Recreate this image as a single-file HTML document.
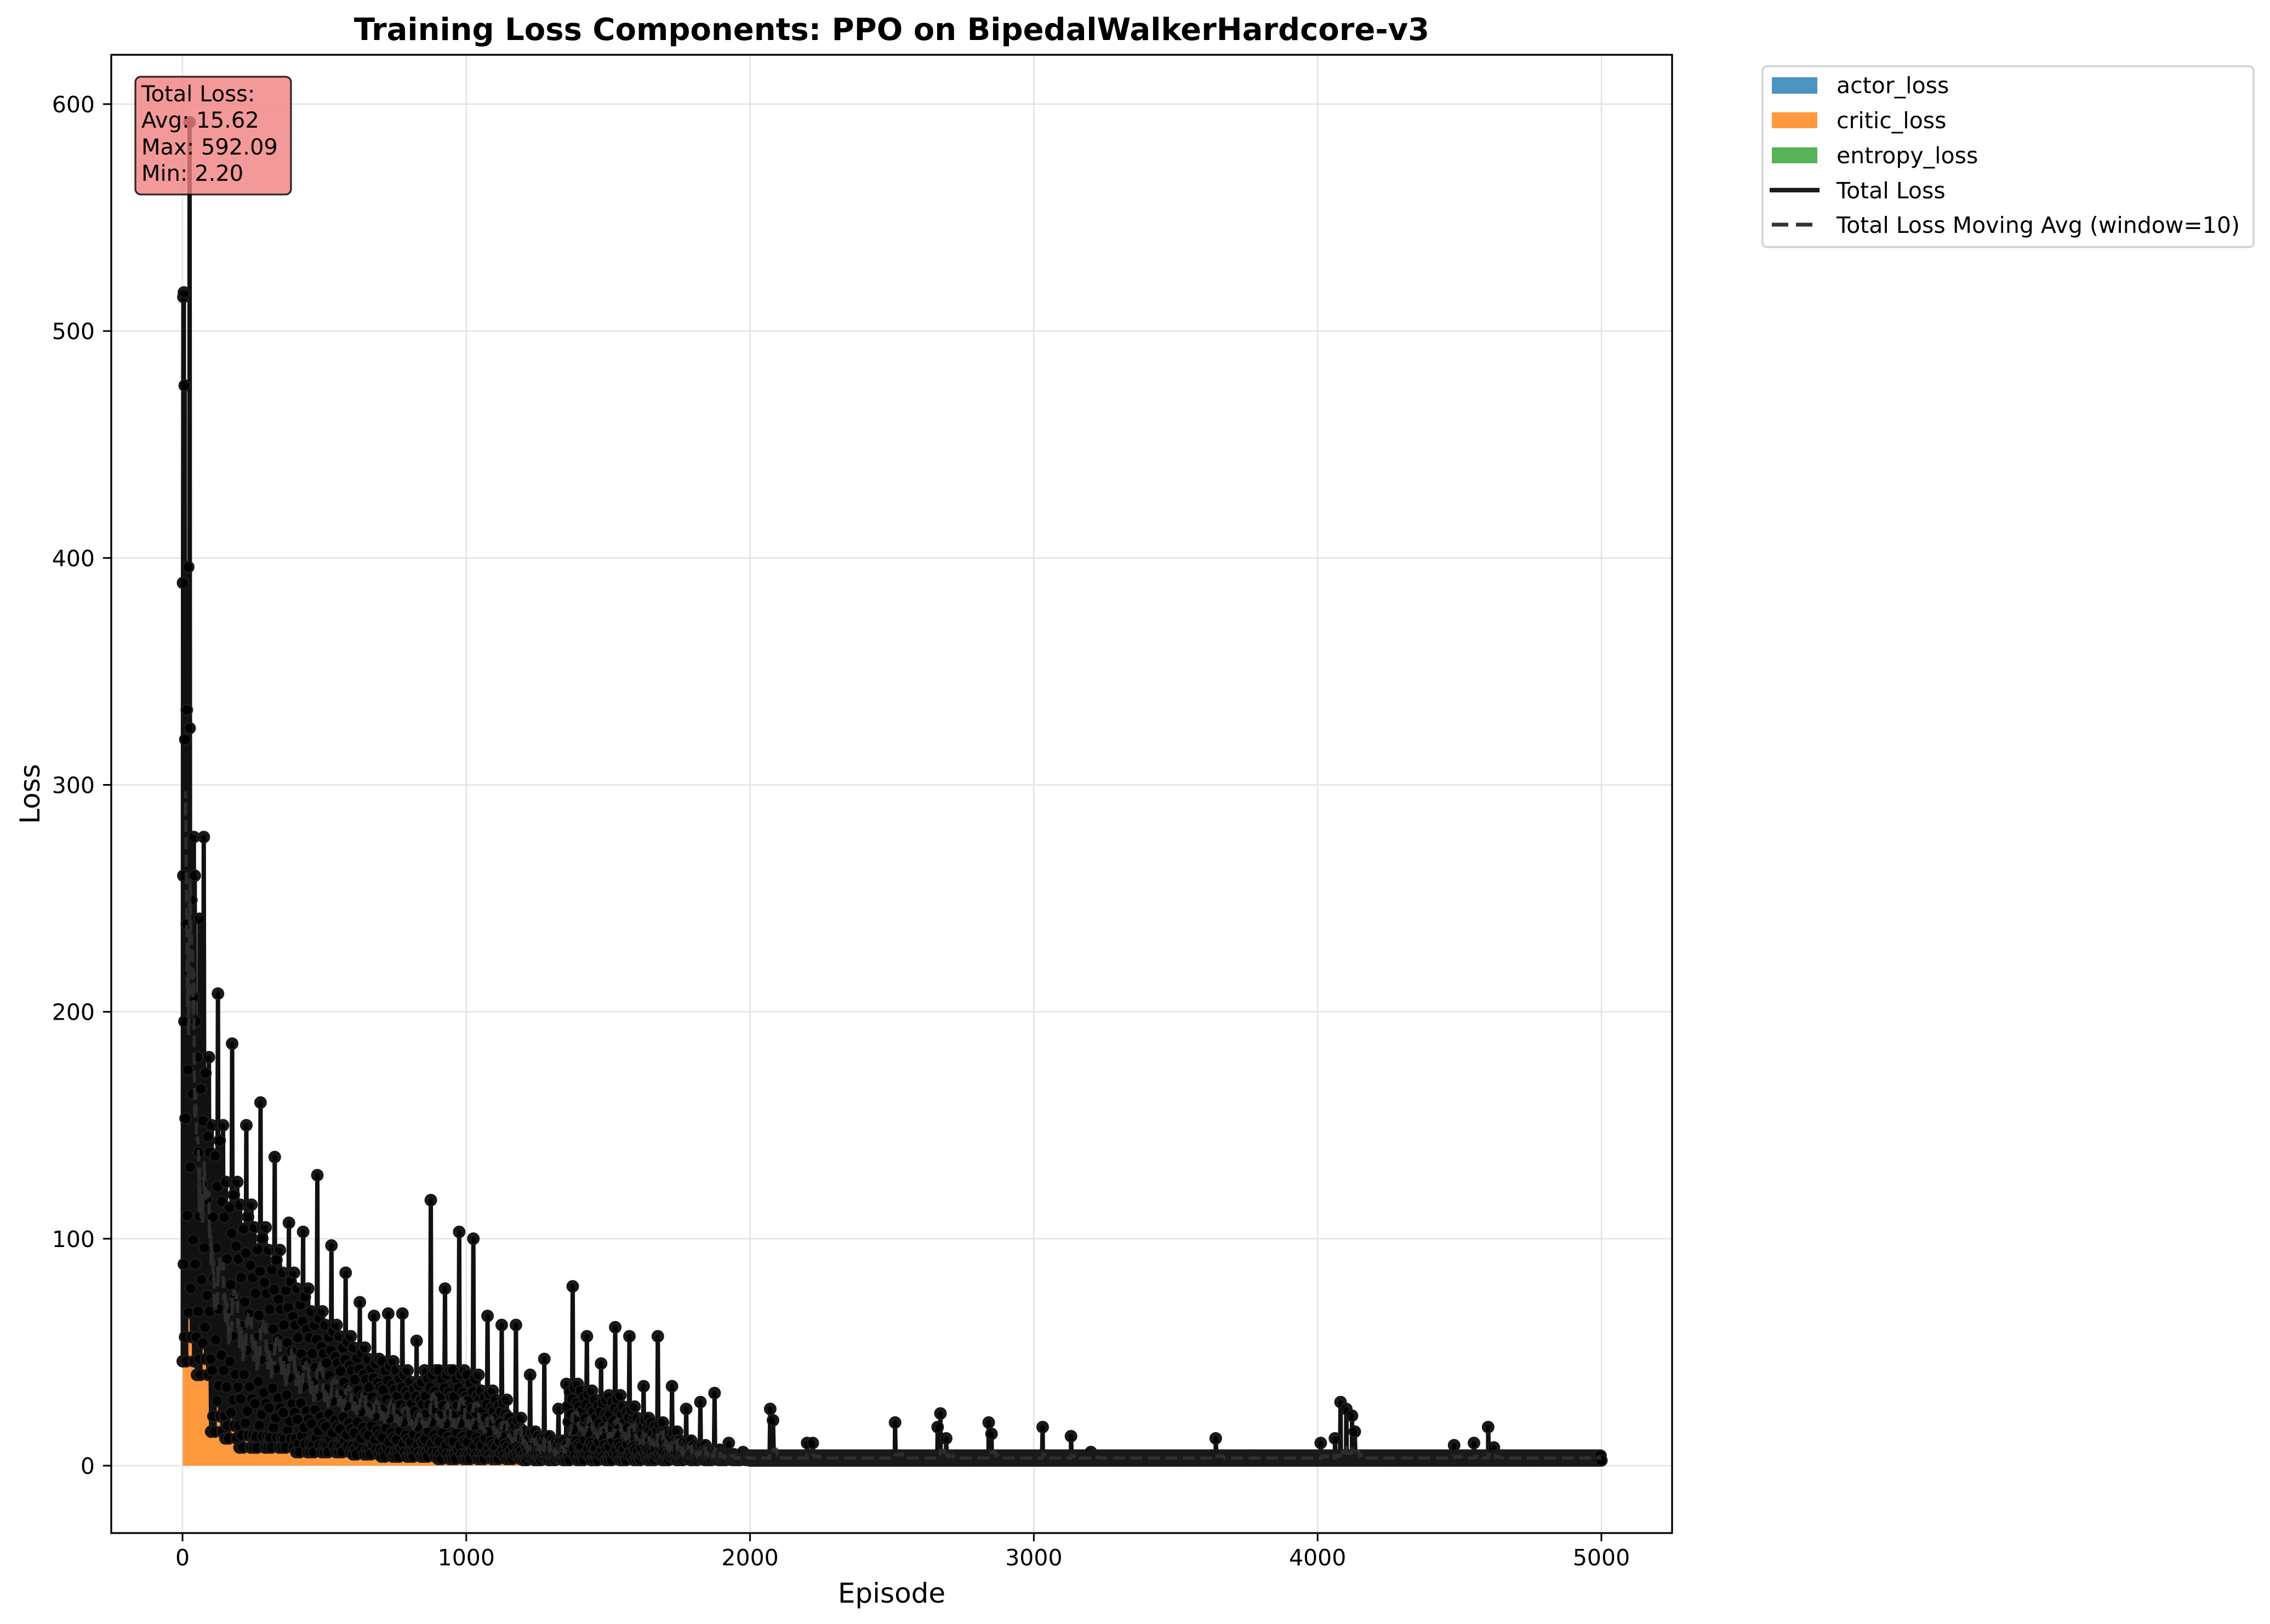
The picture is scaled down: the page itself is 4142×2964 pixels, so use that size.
<!DOCTYPE html>
<html><head><meta charset="utf-8"><style>
html,body{margin:0;padding:0;background:#fff;}
svg{display:block;font-family:"DejaVu Sans","Liberation Sans",sans-serif;}
</style></head><body>
<svg id="chart" width="4142" height="2964" viewBox="0 0 4142 2964" xmlns="http://www.w3.org/2000/svg">
<rect width="4142" height="2964" fill="#fff"/>
<g id="grid"></g>
<g id="area"></g>
<g id="lines"></g>
<rect x="203" y="100" width="2848" height="2698" fill="none" stroke="#000" stroke-width="3.3"/>
<g id="axes"></g>
<text x="1627" y="73" text-anchor="middle" font-size="56" font-weight="bold">Training Loss Components: PPO on BipedalWalkerHardcore-v3</text>
<text x="1627" y="2925" text-anchor="middle" font-size="50">Episode</text>
<text transform="translate(72,1449) rotate(-90)" text-anchor="middle" font-size="50">Loss</text>
<g>
<rect x="247" y="140" width="284" height="215" rx="10" fill="#f08080" fill-opacity="0.8" stroke="#000" stroke-opacity="0.8" stroke-width="3.3"/>
<text x="258" y="185" font-size="40">Total Loss:</text>
<text x="258" y="233" font-size="40">Avg: 15.62</text>
<text x="258" y="282" font-size="40">Max: 592.09</text>
<text x="258" y="330" font-size="40">Min: 2.20</text>
</g>
<g>
<rect x="3216" y="121" width="896" height="330" rx="8" fill="#fff" stroke="#d0d0d0" stroke-width="3.3"/>
<rect x="3233" y="141" width="83" height="30" fill="#1f77b4" fill-opacity="0.8"/>
<text x="3351" y="170" font-size="41">actor_loss</text>
<rect x="3233" y="205" width="83" height="29" fill="#ff7f0e" fill-opacity="0.8"/>
<text x="3351" y="234" font-size="41">critic_loss</text>
<rect x="3233" y="269" width="83" height="29" fill="#2ca02c" fill-opacity="0.8"/>
<text x="3351" y="298" font-size="41">entropy_loss</text>
<line x1="3229" y1="347" x2="3320" y2="347" stroke="#1a1a1a" stroke-width="8.3"/>
<text x="3351" y="362" font-size="41">Total Loss</text>
<line x1="3233" y1="410" x2="3316" y2="410" stroke="#333" stroke-width="7" stroke-dasharray="30,14"/>
<text x="3351" y="425" font-size="41">Total Loss Moving Avg (window=10)</text>
</g>
</svg>
<script>
// ---- data ----
const xTicks = [0,1000,2000,3000,4000,5000];
const yTicks = [0,100,200,300,400,500,600];
const binStart = [0,50,100,150,200,250,300,350,400,450,500,550,600,650,700,750,800,850,900,950,1000,1050,1100,1150,1200,1250,1300,1350,1400,1450,1500,1550,1600,1650,1700,1750,1800,1850,1900,1950];
const binHi  = [592,277,208,186,150,160,136,107,103,128,97,85,72,66,67,67,55,117,78,103,100,66,62,62,40,47,25,79,57,45,61,57,35,57,35,25,28,32,10,6];
const binTyp = [260,180,150,125,115,105,95,85,78,68,62,57,52,47,46,42,37,42,42,42,40,33,29,21,15,13,11,36,33,29,31,26,21,19,15,11,9,7,5,4.5];
const binLo  = [46,40,15,12,8,8,8,8,6,6,6,6,5,5,4,4,4,4,3,3,3,3,3,3,2.5,2.5,2.5,2.5,2.5,2.5,2.5,2.5,2.5,2.5,2.5,2.5,2.5,2.5,2.5,2.5];
const earlyEp  = [2,3,5,8,10,15,20,25,40,60];
const earlyVal = [389,515,517,476,320,333,396,325,277,241];
const bandLo = 2.3;
const bandHi = 4.4;
const spikeEp  = [2070,2080,2200,2220,2510,2660,2670,2690,2840,2850,3030,3130,3200,3640,4010,4060,4080,4100,4120,4130,4480,4550,4600,4620];
const spikeVal = [25,20,10,10,19,17,23,12,19,14,17,13,6,12,10,12,28,25,22,15,9,10,17,8];
const pattern = [0,1,0.2,0.7,0.05,0.5,0,0.9,0.3,0.6,0.1,0.8,0,0.4,0.15,0.95,0.05,0.55,0.25,0.75];

// ---- scales ----
const X0=203,X1=3051,Y0=100,Y1=2798;
function px(e){return 333+e*(2922-333)/5000;}
function py(v){return 2675-v*(2675-190)/600;}
const NS='http://www.w3.org/2000/svg';
function mk(tag,attrs,parent){const el=document.createElementNS(NS,tag);for(const k in attrs)el.setAttribute(k,attrs[k]);parent.appendChild(el);return el;}

const grid=document.getElementById('grid'), axes=document.getElementById('axes');
xTicks.forEach(t=>{
  const g=mk('line',{x1:px(t),x2:px(t),y1:Y0,y2:Y1,stroke:'#e3e3e3','stroke-width':2.5},grid);
  
  
  const tk=mk('line',{x1:px(t),x2:px(t),y1:Y1,y2:Y1+15,stroke:'#000','stroke-width':3},axes);
  
  
  const tl=mk('text',{x:px(t),y:Y1+59,'text-anchor':'middle','font-size':41},axes);
  tl.textContent=t;
  
  
});
yTicks.forEach(t=>{
  const g=mk('line',{x1:X0,x2:X1,y1:py(t),y2:py(t),stroke:'#e3e3e3','stroke-width':2.5},grid);
  
  
  const tk=mk('line',{x1:X0-15,x2:X0,y1:py(t),y2:py(t),stroke:'#000','stroke-width':3},axes);
  
  
  const tl=mk('text',{x:X0-30,y:py(t)+15,'text-anchor':'end','font-size':41},axes);
  tl.textContent=t;
  
  
});

let pts=[];
earlyEp.forEach((e,i)=>pts.push([e,earlyVal[i]]));
binStart.forEach((s,b)=>{
  for(let k=0;k<25;k++){
    const e=s+k*2+1;
    let v=binLo[b]+pattern[k%20]*(binTyp[b]-binLo[b]);
    if(k===12) v=binHi[b];
    pts.push([e,v]);
  }
});
for(let e=2000,i=0;e<=5000;e+=3,i++){ pts.push([e, i%2? bandHi: bandLo]); }
spikeEp.forEach((e,i)=>pts.push([e+1,spikeVal[i]]));
pts.sort((a,b)=>a[0]-b[0]);

const areaG=document.getElementById('area');
let d='M'+px(pts[0][0])+','+py(0);
pts.forEach(p=>{d+=' L'+px(p[0]).toFixed(1)+','+py(p[1]).toFixed(1);});
d+=' L'+px(pts[pts.length-1][0])+','+py(0)+' Z';
const ar=mk('path',{d:d,fill:'#ff7f0e','fill-opacity':0.8},areaG);



const lg=document.getElementById('lines');
let ld='';
pts.forEach((p,i)=>{ld+=(i?' L':'M')+px(p[0]).toFixed(1)+','+py(p[1]).toFixed(1);});
const ln=mk('path',{d:ld,fill:'none',stroke:'#111','stroke-width':8,'stroke-linejoin':'round'},lg);


pts.forEach(p=>{
  const c=mk('circle',{cx:px(p[0]).toFixed(1),cy:py(p[1]).toFixed(1),r:10,fill:'#000','fill-opacity':0.9,stroke:'#1a1a1a','stroke-width':3},lg);
  
  
});
let md='';
for(let i=9;i<pts.length;i++){
  let s=0;for(let j=i-9;j<=i;j++)s+=pts[j][1];
  md+=(i>9?' L':'M')+px(pts[i][0]).toFixed(1)+','+py(s/10).toFixed(1);
}
const ma=mk('path',{d:md,fill:'none',stroke:'#333','stroke-width':6,'stroke-dasharray':'22,10','stroke-opacity':0.8},lg);


</script>
</body></html>
